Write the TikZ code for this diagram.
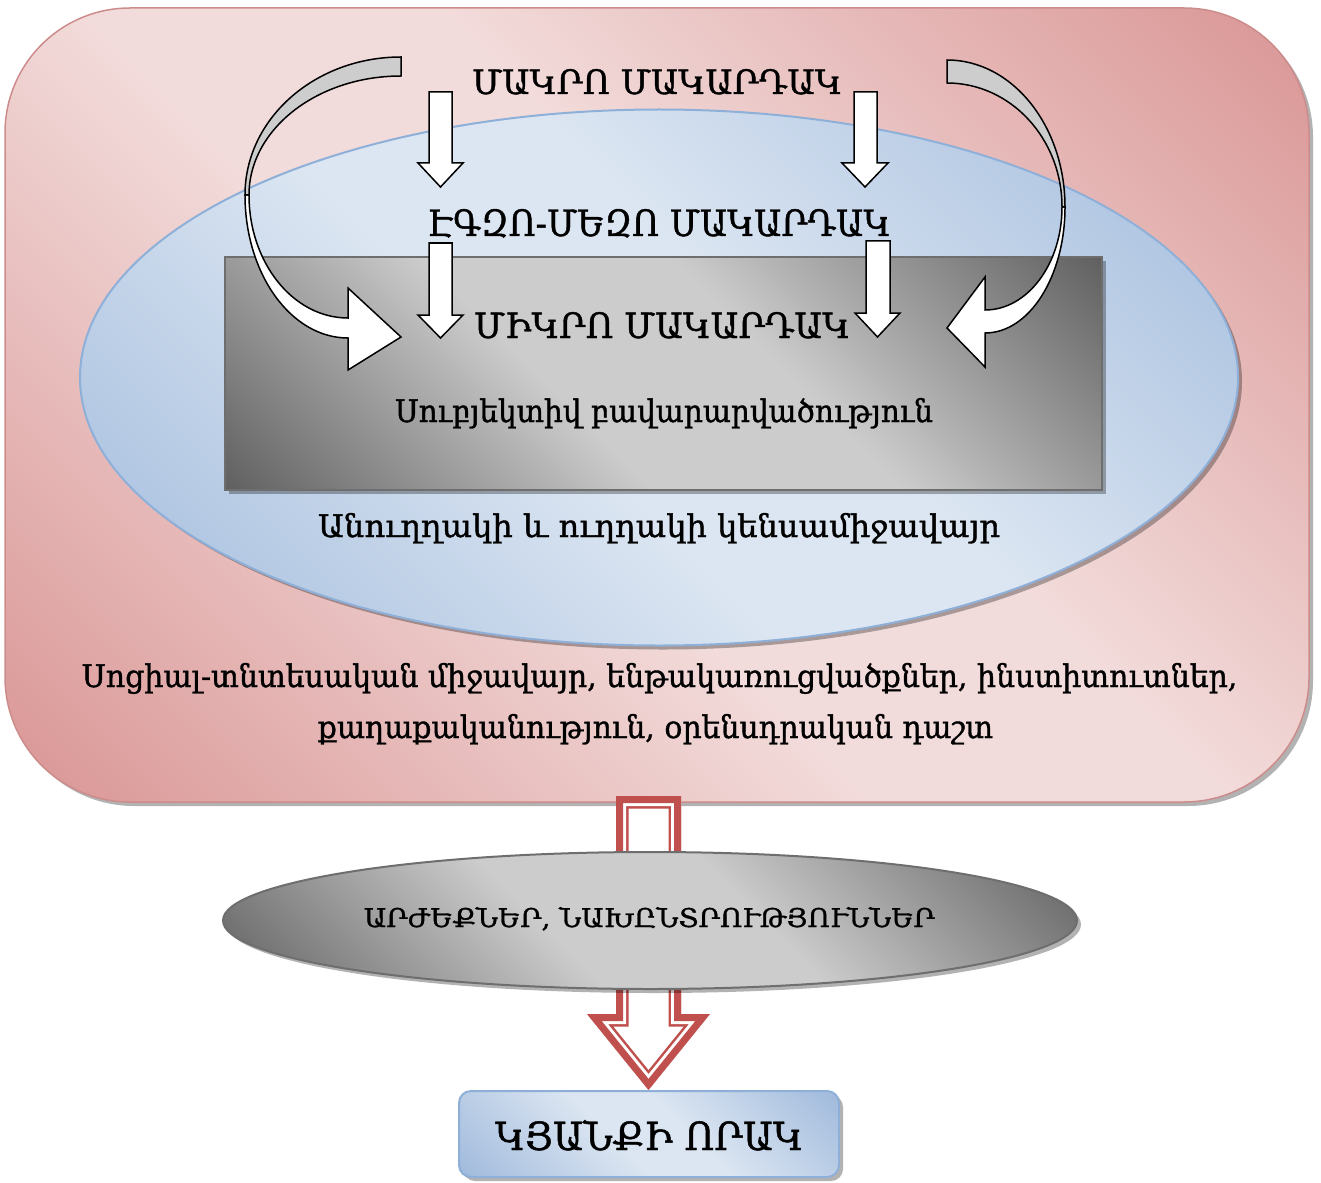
\documentclass[tikz,border=0pt]{standalone}
\usepackage{fontspec}
\usepackage{graphicx}
\newfontfamily\arm[FakeBold=1.2]{DejaVu Serif}
\usetikzlibrary{shadows}
\definecolor{pkL}{RGB}{242,220,219}
\definecolor{pkD}{RGB}{217,149,148}
\definecolor{blL}{RGB}{220,230,242}
\definecolor{blD}{RGB}{160,186,220}
\definecolor{grL}{RGB}{204,204,204}
\definecolor{grD}{RGB}{96,96,96}
\definecolor{pkB}{RGB}{205,140,140}
\definecolor{blB}{RGB}{142,176,216}
\definecolor{grB}{RGB}{110,110,110}
\definecolor{arrRed}{RGB}{192,80,77}
\definecolor{bandGray}{RGB}{205,205,205}
\pgfdeclareverticalshading{pinkrefl}{100bp}{color(0bp)=(pkD); color(14.64bp)=(pkD); color(44bp)=(pkL); color(56bp)=(pkL); color(85.36bp)=(pkD); color(100bp)=(pkD)}
\pgfdeclareverticalshading{bluerefl}{100bp}{color(0bp)=(blD); color(14.64bp)=(blD); color(44bp)=(blL); color(56bp)=(blL); color(85.36bp)=(blD); color(100bp)=(blD)}
\pgfdeclareverticalshading{grayrefl}{100bp}{color(0bp)=(grD); color(14.64bp)=(grD); color(42bp)=(grL); color(58bp)=(grL); color(85.36bp)=(grD); color(100bp)=(grD)}
\tikzset{
  shadowA/.style={drop shadow={shadow xshift=4pt, shadow yshift=-4pt, fill=black, opacity=0.3}},
  whiteblock/.style={fill=white, draw=black, line width=1.5pt, line join=miter},
  grayband/.style={fill=bandGray, draw=black, line width=1.5pt},
  txt/.style={anchor=base, inner sep=0pt, text=black},
}
\begin{document}
\begin{tikzpicture}[x=1pt,y=-1pt]
\useasboundingbox (0,0) rectangle (1321,1182);
% outer context
\path[shadowA, shade, shading=pinkrefl, shading angle=-45, draw=pkB, line width=1.5pt, rounded corners=125pt] (5,8) rectangle (1309,802);
% meso ellipse
\path[shadowA, shade, shading=bluerefl, shading angle=-45, draw=blB, line width=2pt] (659,377.5) ellipse [x radius=579pt, y radius=268pt];
% micro rectangle
\path[shadowA, shade, shading=grayrefl, shading angle=-45, draw=grB, line width=2pt] (225,257) rectangle (1102,490);
% red arrow
\def\redpath{(616,796) -- (681,796) -- (681,1014) -- (710,1014) -- (648.5,1090) -- (587,1014) -- (616,1014) -- cycle}
\begin{scope}
\clip \redpath;
\fill[white] \redpath;
\draw[arrRed, line width=25pt] \redpath;
\draw[white, line width=20pt] \redpath;
\draw[arrRed, line width=14pt] \redpath;
\end{scope}
% values ellipse
\path[shadowA, shade, shading=grayrefl, shading angle=-45, draw=grB, line width=2pt] (650,920.5) ellipse [x radius=427pt, y radius=68.5pt];
% quality box
\path[shadowA, shade, shading=bluerefl, shading angle=-45, draw=blB, line width=2pt, rounded corners=12pt] (459,1091) rectangle (839,1177);
% texts
\node[txt] (tMacro) at (657,94) {\resizebox{370pt}{25pt}{\arm ՄԱԿՐՈ ՄԱԿԱՐԴԱԿ}};
\node[txt] (tMeso) at (659,236) {\resizebox{463pt}{27pt}{\arm ԷԳԶՈ-ՄԵԶՈ ՄԱԿԱՐԴԱԿ}};
\node[txt] (tMicro) at (662,338) {\resizebox{376pt}{26pt}{\arm ՄԻԿՐՈ ՄԱԿԱՐԴԱԿ}};
\node[txt] (tSubj) at (664,422) {\resizebox{538pt}{24pt}{\arm Սուբյեկտիվ բավարարվածություն}};
\node[txt] (tEnv) at (659,537) {\resizebox{682pt}{24pt}{\arm Անուղղակի և ուղղակի կենսամիջավայր}};
\node[txt] (tSocA) at (659.5,687) {\resizebox{1155pt}{24pt}{\arm Սոցիալ-տնտեսական միջավայր, ենթակառուցվածքներ, ինստիտուտներ,}};
\node[txt] (tSocB) at (655.5,738) {\resizebox{675pt}{24pt}{\arm քաղաքականություն, օրենսդրական դաշտ}};
\node[txt] (tVal) at (649.5,927) {\resizebox{571pt}{20pt}{\arm ԱՐԺԵՔՆԵՐ, ՆԱԽԸՆՏՐՈՒԹՅՈՒՆՆԵՐ}};
\node[txt] (tQol) at (649,1150) {\resizebox{308pt}{30pt}{\arm ԿՅԱՆՔԻ ՈՐԱԿ}};
% straight arrows
\draw[whiteblock] (429,92) -- (452,92) -- (452,163) -- (463,163) -- (440.5,187) -- (418,163) -- (429,163) -- cycle;
\draw[whiteblock] (854,92) -- (877,92) -- (877,163) -- (888,163) -- (865,187) -- (842,163) -- (854,163) -- cycle;
\draw[whiteblock] (429,243) -- (452,243) -- (452,315) -- (463,315) -- (440.5,338) -- (418,315) -- (429,315) -- cycle;
\draw[whiteblock] (866,241) -- (890,241) -- (890,313) -- (900,313) -- (877.5,337) -- (855,313) -- (866,313) -- cycle;
% left curved arrow
\draw[whiteblock] (245,195) .. controls (245,274) and (291.1,338) .. (348,338) -- (348,370) -- (401,337) -- (348,288) -- (348,318) .. controls (293.3,318) and (249,262.9) .. (249,195) -- cycle;
\draw[grayband] (401,57) .. controls (314.8,57) and (245,118.8) .. (245,195) -- (249,195) .. controls (249,129.3) and (317.1,76) .. (401,76) -- cycle;
% right curved arrow
\draw[whiteblock] (1065,207) .. controls (1065,276.6) and (1029.2,333) .. (985,333) -- (985,367) -- (947,328) -- (985,277) -- (985,310) .. controls (1027.5,310) and (1062,263.9) .. (1062,207) -- cycle;
\draw[grayband] (947,60) .. controls (1012.2,60) and (1065,125.8) .. (1065,207) -- (1062,207) .. controls (1062,138.5) and (1010.5,83) .. (947,83) -- cycle;
\end{tikzpicture}
\end{document}
